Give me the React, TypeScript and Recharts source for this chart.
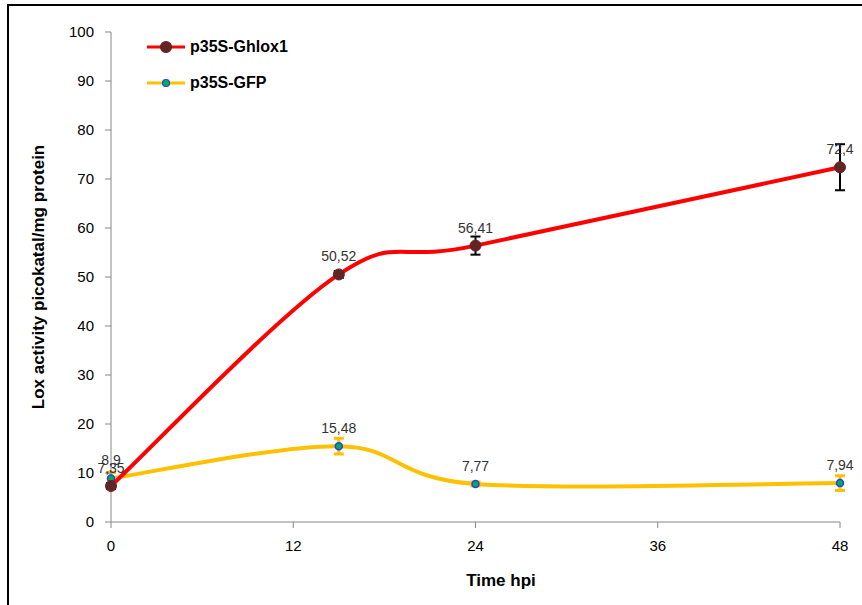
import React from 'react';
import {
  LineChart,
  Line,
  XAxis,
  YAxis,
  ErrorBar,
  LabelList,
  Label,
} from 'recharts';

const times = [0, 15, 24, 48];
const ghloxValues = [7.35, 50.52, 56.41, 72.4];
const ghloxErrors = [0.6, 0.7, 1.85, 4.7];
const gfpValues = [8.9, 15.48, 7.77, 7.94];
const gfpErrors = [1.2, 1.6, 0.4, 1.5];
const xTicks = [0, 12, 24, 36, 48];
const yTicks = [0, 10, 20, 30, 40, 50, 60, 70, 80, 90, 100];

const data = times.map((t, i) => ({
  time: t,
  ghlox: ghloxValues[i],
  ghloxErr: ghloxErrors[i],
  gfp: gfpValues[i],
  gfpErr: gfpErrors[i],
}));

const FONT = '"Liberation Sans", Arial, sans-serif';

// Excel-like smoothing (Catmull-Rom through the points)
const smoothCurve = (context: any) => {
  let pts: [number, number][] = [];
  return {
    areaStart() {},
    areaEnd() {},
    lineStart() {
      pts = [];
    },
    point(x: number, y: number) {
      pts.push([+x, +y]);
    },
    lineEnd() {
      if (!pts.length) return;
      context.moveTo(pts[0][0], pts[0][1]);
      for (let i = 0; i < pts.length - 1; i++) {
        const p0 = pts[i - 1] || pts[i];
        const p1 = pts[i];
        const p2 = pts[i + 1];
        const p3 = pts[i + 2] || p2;
        context.bezierCurveTo(
          p1[0] + (p2[0] - p0[0]) / 6,
          p1[1] + (p2[1] - p0[1]) / 6,
          p2[0] - (p3[0] - p1[0]) / 6,
          p2[1] - (p3[1] - p1[1]) / 6,
          p2[0],
          p2[1]
        );
      }
    },
  };
};

const fmt = (v: any) => String(v).replace('.', ',');

const legendItems = [
  { name: 'p35S-Ghlox1', line: '#FF0000', fill: '#632523', stroke: '#632523', r: 5.5 },
  { name: 'p35S-GFP', line: '#FFC000', fill: '#00B050', stroke: '#1F3FFF', r: 3.5 },
];

const ChartLegend = () => (
  <div style={{ position: 'absolute', left: 146, top: 29, fontFamily: FONT }}>
    {legendItems.map((item) => (
      <div key={item.name} style={{ display: 'flex', alignItems: 'center', height: 36 }}>
        <svg width={40} height={14} style={{ marginRight: 4 }}>
          <line x1={1} y1={7} x2={39} y2={7} stroke={item.line} strokeWidth={3} />
          <circle cx={20} cy={7} r={item.r} fill={item.fill} stroke={item.stroke} strokeWidth={1.2} />
        </svg>
        <span style={{ fontSize: 16, fontWeight: 'bold', color: '#000' }}>{item.name}</span>
      </div>
    ))}
  </div>
);

export default function App() {
  return (
    <div style={{ position: 'absolute', left: 0, top: 0, width: 862, height: 605, background: '#fff' }}>
      <div
        style={{
          position: 'absolute',
          left: 7,
          top: 4,
          right: 0,
          bottom: 0,
          borderTop: '2px solid #000',
          borderLeft: '2px solid #000',
        }}
      />
      <LineChart
        width={862}
        height={605}
        data={data}
        margin={{ top: 32, right: 22, left: 0, bottom: 43 }}
        style={{ position: 'absolute', left: 0, top: 0 }}
      >
        <XAxis
          dataKey="time"
          type="number"
          domain={[0, 48]}
          ticks={xTicks}
          height={40}
          stroke="#868686"
          tickSize={6}
          tickMargin={12}
          tick={{ fill: '#000', fontSize: 15, fontFamily: FONT }}
        >
          <Label
            content={() => (
              <text x={501} y={586} textAnchor="middle" fontFamily={FONT} fontWeight="bold" fontSize={17} fill="#000">
                Time hpi
              </text>
            )}
          />
        </XAxis>
        <YAxis
          type="number"
          domain={[0, 100]}
          ticks={yTicks}
          width={111}
          stroke="#868686"
          tickSize={6}
          tickMargin={11}
          tick={{ fill: '#000', fontSize: 15, fontFamily: FONT }}
        >
          <Label
            content={() => (
              <text
                x={38}
                y={277}
                transform="rotate(-90 38 277)"
                textAnchor="middle"
                dominantBaseline="central"
                fontFamily={FONT}
                fontWeight="bold"
                fontSize={17}
                fill="#000"
              >
                Lox activity picokatal/mg protein
              </text>
            )}
          />
        </YAxis>
        <Line
          dataKey="gfp"
          name="p35S-GFP"
          type={smoothCurve as any}
          stroke="#FFC000"
          strokeWidth={4}
          dot={{ r: 3.5, fill: '#00B050', stroke: '#1F3FFF', strokeWidth: 1.5 }}
          isAnimationActive={false}
        >
          <ErrorBar dataKey="gfpErr" width={5} stroke="#FFC000" strokeWidth={3} direction="y" />
          <LabelList
            dataKey="gfp"
            position="top"
            offset={13}
            formatter={fmt}
            style={{ fill: '#333', fontSize: 14, fontFamily: FONT }}
          />
        </Line>
        <Line
          dataKey="ghlox"
          name="p35S-Ghlox1"
          type={smoothCurve as any}
          stroke="#FF0000"
          strokeWidth={4}
          dot={{ r: 5.5, fill: '#632523', stroke: '#632523', strokeWidth: 1 }}
          isAnimationActive={false}
        >
          <ErrorBar dataKey="ghloxErr" width={5} stroke="#000" strokeWidth={2} direction="y" />
          <LabelList
            dataKey="ghlox"
            position="top"
            offset={13}
            formatter={fmt}
            style={{ fill: '#333', fontSize: 14, fontFamily: FONT }}
          />
        </Line>
      </LineChart>
      <ChartLegend />
    </div>
  );
}
